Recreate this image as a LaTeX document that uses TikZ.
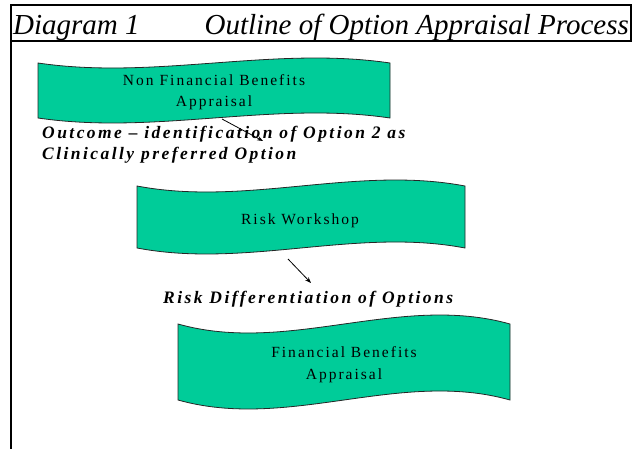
\documentclass[tikz,border=0pt]{standalone}
\usepackage{fontspec}
\setmainfont{Liberation Serif}
\newfontfamily\boxfont[LetterSpace=13]{Liberation Serif}
\newfontfamily\labfont[LetterSpace=14]{Liberation Serif}
\usetikzlibrary{arrows.meta}
\definecolor{wavegreen}{RGB}{0,204,153}
\newcommand\wavebox[5]{% left, right, top, bottom, amplitude
  \filldraw[wavestyle]
    (#1,#3) .. controls ({#1+(#2-#1)/3},{#3+3.46*#5}) and ({#1+2*(#2-#1)/3},{#3-3.46*#5}) .. (#2,#3)
    -- (#2,#4)
    .. controls ({#1+2*(#2-#1)/3},{#4-3.46*#5}) and ({#1+(#2-#1)/3},{#4+3.46*#5}) .. (#1,#4)
    -- cycle;}
\tikzset{
  wavestyle/.style={fill=wavegreen, draw=black!85, line width=0.8pt},
  frame/.style={line width=2pt, line cap=rect},
  boxtext/.style={anchor=base, align=center, font=\boxfont\fontsize{15.5}{21.5}\selectfont, inner sep=0pt},
  labtext/.style={anchor=base west, align=left, font=\labfont\bfseries\itshape\fontsize{17.5}{21}\selectfont, inner sep=0pt},
  titletext/.style={font=\itshape\fontsize{29}{30}\selectfont, inner sep=0pt},
  flowarrow/.style={line width=0.8pt, -{Stealth[length=6pt,width=4.5pt]}}
}
\begin{document}
\begin{tikzpicture}[x=1pt,y=-1pt]
\useasboundingbox (0,0) rectangle (634,449);
% frame
\draw[frame] (11,449) -- (11,5) -- (631,5) -- (631,41) -- (11,41);
\node[titletext, anchor=base west] (t1) at (13,35) {Diagram 1};
\node[titletext, anchor=base east] (t2) at (629,35) {Outline of Option Appraisal Process};
% boxes
\wavebox{38}{390}{63}{118}{5}
\wavebox{137}{465}{186}{248}{6}
\wavebox{178}{510}{324}{400}{9}
% (base anchor of a multi-line node = baseline of its last line)
\node[boxtext] (b1) at (214,107) {Non Financial Benefits\\Appraisal};
\node[boxtext] (b2) at (300,224) {Risk Workshop};
\node[boxtext] (b3) at (344,379) {Financial Benefits\\Appraisal};
% labels
\node[labtext] (l1) at (42,160) {Outcome – identification of Option 2 as\\Clinically preferred Option};
\node[labtext] (l2) at (163,303) {Risk Differentiation of Options};
% arrows
\coordinate (a1s) at (222,119);
\coordinate (a1e) at (263,141);
\coordinate (a2s) at (288,259);
\coordinate (a2e) at (311,283);
\draw[flowarrow] (a1s) -- (a1e);
\draw[flowarrow] (a2s) -- (a2e);
\end{tikzpicture}
\end{document}
